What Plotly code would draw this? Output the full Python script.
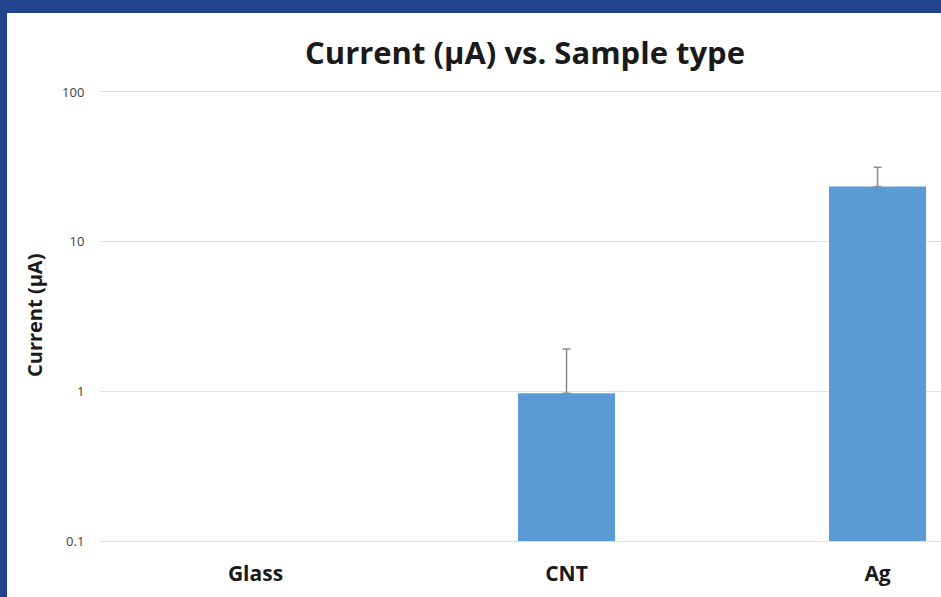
import plotly.graph_objects as go

categories = ["Glass", "CNT", "Ag"]
current_uA = [None, 0.97, 23.4]
error_plus = [None, 0.95, 8.0]
y_tick_vals = [0.1, 1, 10, 100]
y_tick_text = ["0.1", "1", "10", "100"]

W, H = 941, 597
L, R, T, B = 100, 0, 92, 56

fig = go.Figure()
fig.add_trace(go.Bar(
    x=categories, y=current_uA,
    marker=dict(color="#5B9BD5", line=dict(width=0)),
    width=0.312,
    error_y=dict(type="data", array=error_plus, symmetric=False,
                 arrayminus=[0, 0, 0], color="#8c8c8c", thickness=1.5, width=4),
))

fig.update_layout(
    width=W, height=H,
    margin=dict(l=L, r=R, t=T, b=B),
    paper_bgcolor="#23448C",
    plot_bgcolor="white",
    showlegend=False,
    font=dict(family="Open Sans", color="#262626"),
    xaxis=dict(
        range=[-0.5, 2.204], showgrid=False, zeroline=False,
        showline=True, mirror=True, linecolor="#e0e0e0", linewidth=1,
        ticks="outside", ticklen=14, tickcolor="rgba(0,0,0,0)",
        tickfont=dict(size=21, family="Open Sans", color="#1a1a1a", weight="bold"),
    ),
    yaxis=dict(
        type="log", range=[-1, 2], tickvals=y_tick_vals, ticktext=y_tick_text,
        showgrid=True, gridcolor="#e0e0e0", gridwidth=1, zeroline=False,
        showline=False, ticks="outside", ticklen=12, tickcolor="rgba(0,0,0,0)",
        tickfont=dict(size=13, family="Open Sans", color="#404040"),
    ),
    shapes=[dict(type="rect", xref="paper", yref="paper",
                 x0=(7 - L) / (W - L - R), x1=1.01,
                 y0=-(B + 5) / (H - T - B), y1=1 + (T - 13) / (H - T - B),
                 fillcolor="white", line=dict(width=0), layer="below")],
    annotations=[
        dict(text="<b>Current (μA) vs. Sample type</b>", xref="paper", yref="paper",
             x=(525 - L) / (W - L - R), y=1 + (T - 52) / (H - T - B),
             showarrow=False, font=dict(size=31, family="Open Sans", color="#1a1a1a"),
             xanchor="center", yanchor="middle"),
        dict(text="<b>Current (μA)</b>", xref="paper", yref="paper",
             x=(34 - L) / (W - L - R), y=1 - (316 - T) / (H - T - B),
             textangle=-90, showarrow=False,
             font=dict(size=20, family="Open Sans", color="#1a1a1a"),
             xanchor="center", yanchor="middle"),
    ],
)

fig.write_html("out.html", config={"displayModeBar": False},
               post_script="document.body.style.margin='0';")
